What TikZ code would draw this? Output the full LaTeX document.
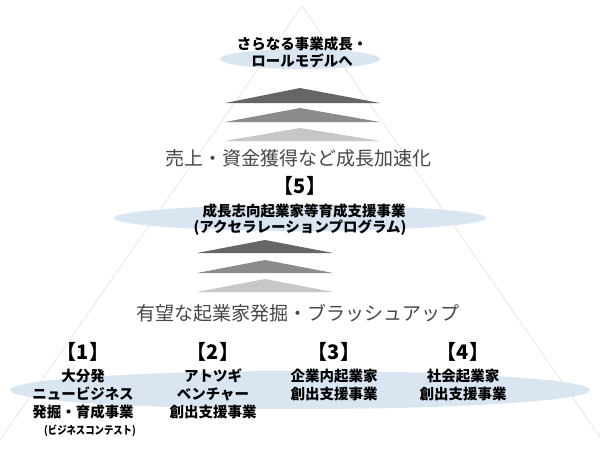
\documentclass[tikz,border=0pt]{standalone}
\usepackage{fontspec}
\setmainfont{Noto Sans CJK JP}
\begin{document}
\begin{tikzpicture}[x=1pt,y=-1pt,
  bt/.style={font=\bfseries\fontsize{14.5}{16}\selectfont,align=center,inner sep=0},
  num/.style={font=\bfseries\fontsize{20}{22}\selectfont,inner sep=0},
  mid/.style={font=\fontsize{19}{20}\selectfont,text=black!72,inner sep=0}]
\useasboundingbox (0,0) rectangle (600,450);
\fill[white] (0,0) rectangle (600,450);
\definecolor{ellc}{RGB}{218,229,242}
\tikzset{ell/.style={fill=ellc,draw=none}}
\draw[black!10,line width=0.7pt] (-5,447) -- (302,6) -- (607,447);
% ellipses
\fill[ell] (300,59) ellipse [x radius=80,y radius=10];
\fill[ell] (300,218) ellipse [x radius=186,y radius=13];
\fill[ell] (300,390) ellipse [x radius=290,y radius=19];
% chevrons group 1
\fill[black!60] (225,103) -- (300,88) -- (380,103) -- cycle;
\fill[black!45] (225,122) -- (300,108) -- (380,122) -- cycle;
\fill[black!22] (225,141) -- (300,128) -- (380,141) -- cycle;
% chevrons group 2
\fill[black!60] (197,253) -- (265,240) -- (333,253) -- cycle;
\fill[black!45] (197,273) -- (265,260) -- (333,273) -- cycle;
\fill[black!22] (197,292) -- (265,279) -- (333,292) -- cycle;
% texts
\node[bt] (t1) at (302,44) {さらなる事業成長・};
\node[bt] (t2) at (302,61) {ロールモデルへ};
\node[mid] (m1) at (298,158) {売上・資金獲得など成長加速化};
\node[num] (n5) at (300,186) {【5】};
\node[bt] (f1) at (304,211) {成長志向起業家等育成支援事業};
\node[bt] (f2) at (300,228) {(アクセラレーションプログラム)};
\node[mid] (m2) at (298,313) {有望な起業家発掘・ブラッシュアップ};
\node[num] (n1) at (83,352) {【1】};
\node[num] (n2) at (213,352) {【2】};
\node[num] (n3) at (334,352) {【3】};
\node[num] (n4) at (463,352) {【4】};
\node[bt] (a1) at (83,376) {大分発};
\node[bt] (a2) at (83,394) {ニュービジネス};
\node[bt] (a3) at (83,412) {発掘・育成事業};
\node[bt,font=\bfseries\fontsize{11}{12}\selectfont,xscale=0.85] (a4) at (90,431) {(ビジネスコンテスト)};
\node[bt] (b1) at (213,376) {アトツギ};
\node[bt] (b2) at (213,394) {ベンチャー};
\node[bt] (b3) at (213,412) {創出支援事業};
\node[bt] (c1) at (334,376) {企業内起業家};
\node[bt] (c2) at (334,394) {創出支援事業};
\node[bt] (d1) at (463,376) {社会起業家};
\node[bt] (d2) at (463,394) {創出支援事業};
\end{tikzpicture}
\end{document}
